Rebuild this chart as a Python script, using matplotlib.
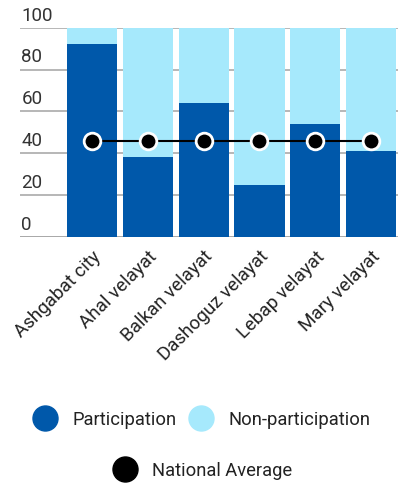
import matplotlib
matplotlib.use("Agg")
import matplotlib.pyplot as plt
from matplotlib.lines import Line2D
from matplotlib.transforms import blended_transform_factory, offset_copy

plt.rcParams['font.family'] = ['Roboto', 'DejaVu Sans']

categories = ["Ashgabat city", "Ahal velayat", "Balkan velayat", "Dashoguz velayat",
              "Lebap velayat", "Mary velayat"]
participation = [92, 38, 64, 25, 54, 41]
non_participation = [100 - v for v in participation]
national_average = [46, 46, 46, 46, 46, 46]
yticks = [0, 20, 40, 60, 80, 100]

dark = "#0058AA"
light = "#A6E9FC"

fig = plt.figure(figsize=(3.98, 4.85), dpi=100)
ax = fig.add_axes([0.05, 1 - 238 / 485, 0.95, (238 - 28.7) / 485])

x = list(range(len(categories)))
ax.bar(x, participation, width=0.9, color=dark, zorder=2)
ax.bar(x, non_participation, bottom=participation, width=0.9, color=light, zorder=2)
ax.plot(x, national_average, color="black", lw=1.5, marker="o", ms=12,
        mfc="black", mec="white", mew=2, zorder=4)

ax.set_xlim(-1.29, 5.48)
ax.set_ylim(0, 100)
for s in ax.spines.values():
    s.set_visible(False)
ax.set_yticks([])
ax.set_xticks([])
for t in yticks:
    ax.axhline(t, color="#aaaaaa" if t else "#999999", lw=1.2, zorder=1)
    tr = offset_copy(blended_transform_factory(ax.transAxes, ax.transData), fig=fig, x=1, y=3, units='points')
    ax.text(0.0, t, str(t), transform=tr, ha="left", va="bottom",
            fontsize=13.5, color="#333333")

for i, c in enumerate(categories):
    tr = offset_copy(ax.transData, fig=fig, x=0, y=-7, units='points')
    ax.text(i, 0, c, transform=tr, rotation=45, ha="right", va="top",
            rotation_mode="anchor", fontsize=13.5, color="#222222")

h1 = [Line2D([], [], ls="", marker="o", ms=18, mfc=dark, mec=dark),
      Line2D([], [], ls="", marker="o", ms=18, mfc=light, mec=light)]
leg1 = fig.legend(h1, ["Participation", "Non-participation"], ncol=2, frameon=False,
                  loc="center", bbox_to_anchor=(0.508, 1 - 420 / 485), fontsize=13.2,
                  handletextpad=0.9, columnspacing=0.75, handlelength=1.2,
                  labelcolor="#222222")
h2 = [Line2D([], [], ls="", marker="o", ms=18, mfc="black", mec="black")]
leg2 = fig.legend(h2, ["National Average"], frameon=False,
                  loc="center", bbox_to_anchor=(0.51, 1 - 471 / 485), fontsize=13.2,
                  handletextpad=0.9, handlelength=1.2, labelcolor="#222222")

fig.savefig("out.png", dpi=100)
